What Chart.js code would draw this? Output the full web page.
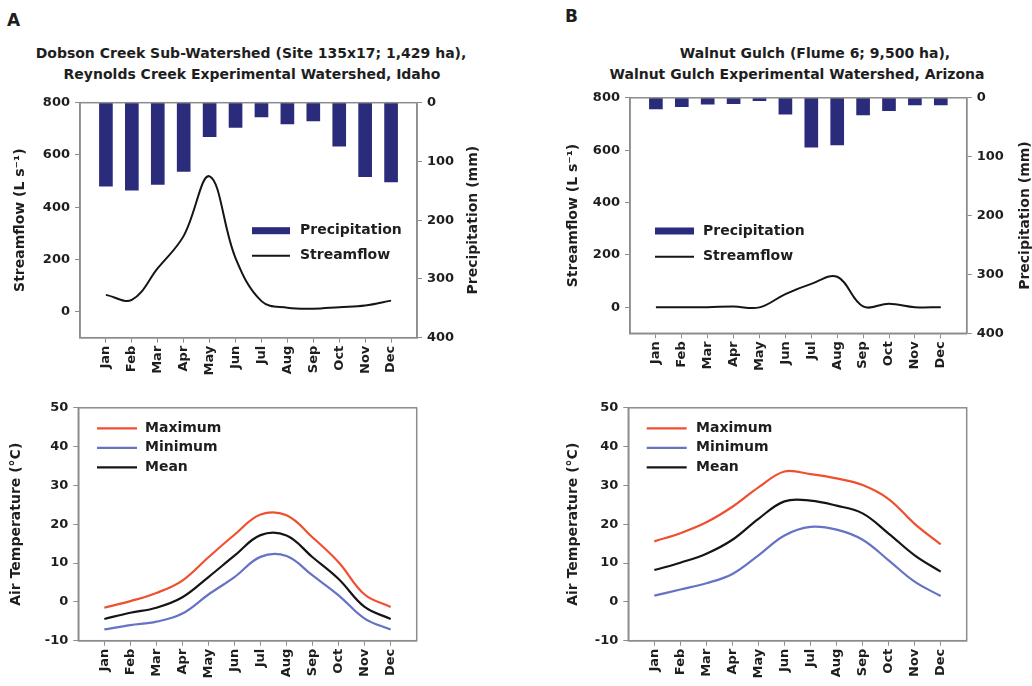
<!DOCTYPE html>
<html><head><meta charset="utf-8">
<script src="https://cdn.jsdelivr.net/npm/chart.js@4.4.1/dist/chart.umd.min.js"></script>
<style>
html,body{margin:0;padding:0;background:#fff;width:1032px;height:686px;overflow:hidden;position:relative;}
canvas{position:absolute;}
.t{position:absolute;font:bold 14px "DejaVu Sans";color:#1e1e1e;white-space:nowrap;text-align:center;width:600px;line-height:16px;}
.l{position:absolute;font:bold 17px "DejaVu Sans";color:#1e1e1e;line-height:20px;}
</style></head><body>
<div class="l" style="left:7px;top:10px">A</div>
<div class="l" style="left:565px;top:6px">B</div>
<div class="t" style="left:-49px;top:45px">Dobson Creek Sub-Watershed (Site 135x17; 1,429 ha),</div>
<div class="t" style="left:-48px;top:66px">Reynolds Creek Experimental Watershed, Idaho</div>
<div class="t" style="left:515px;top:45px">Walnut Gulch (Flume 6; 9,500 ha),</div>
<div class="t" style="left:497px;top:66px">Walnut Gulch Experimental Watershed, Arizona</div>
<canvas id="ta" width="520" height="310" style="left:0;top:85px"></canvas>
<canvas id="tb" width="512" height="310" style="left:520px;top:85px"></canvas>
<canvas id="ba" width="520" height="291" style="left:0;top:395px"></canvas>
<canvas id="bb" width="512" height="291" style="left:520px;top:395px"></canvas>
<script>
// ---- data ----
const months = ['Jan','Feb','Mar','Apr','May','Jun','Jul','Aug','Sep','Oct','Nov','Dec'];
const precipA = [142, 149, 139, 117, 58, 42, 24, 36, 31, 74, 126, 135];
const streamA = [64, 45, 166, 290, 518, 205, 40, 15, 11, 17, 23, 42];
const precipB = [19, 15, 11, 10, 5, 28, 84, 80, 29, 22, 12, 12];
const streamB = [0, 0, 0, 2, -1, 50, 89, 116, 3, 13, 0, 0];
const tmaxA = [-1.5, 0.2, 2.3, 5.5, 11.5, 17.3, 22.5, 22.3, 16.6, 10.2, 1.9, -1.3];
const tmeanA = [-4.4, -2.8, -1.5, 1.2, 6.4, 11.9, 17.2, 17.1, 11.5, 5.9, -1.3, -4.4];
const tminA = [-7.1, -6.0, -5.1, -3.0, 1.9, 6.4, 11.6, 11.8, 6.8, 1.7, -4.3, -7.1];
const tmaxB = [15.6, 17.7, 20.5, 24.5, 29.5, 33.6, 32.9, 31.8, 30.1, 26.5, 20.1, 14.8];
const tmeanB = [8.2, 10.1, 12.4, 16.0, 21.4, 25.9, 26.1, 24.8, 22.8, 17.6, 12.0, 7.8];
const tminB = [1.6, 3.2, 4.8, 7.2, 12.0, 17.1, 19.3, 18.6, 16.0, 10.7, 5.2, 1.5];
const streamTicks = [0, 200, 400, 600, 800];
const precipTicks = [0, 100, 200, 300, 400];
const tempTicks = [-10, 0, 10, 20, 30, 40, 50];

// ---- styling ----
const FAM = 'DejaVu Sans';
const TXT = '#1e1e1e';
const AX = '#8c8c8c';
const tickFont = {family: FAM, weight: 'bold', size: 13};
const titleFont = {family: FAM, weight: 'bold', size: 14};
const cats = ['', ...months, ''];
const pad = a => [null, ...a, null];

const framePlugin = {
  id: 'frame',
  afterDatasetsDraw(chart) {
    const a = chart.chartArea, ctx = chart.ctx;
    ctx.save(); ctx.strokeStyle = AX; ctx.lineWidth = 1.5;
    ctx.strokeRect(a.left, a.top, a.right - a.left, a.bottom - a.top);
    ctx.restore();
  }
};
const legendPlugin = {
  id: 'boxLegend',
  afterDraw(chart, args, o) {
    const ctx = chart.ctx;
    ctx.save();
    ctx.font = 'bold 14px "' + FAM + '"';
    ctx.textBaseline = 'middle';
    chart.data.datasets.forEach((ds, i) => {
      const y = o.y + i * o.gap;
      if (ds.type === 'bar') {
        ctx.fillStyle = ds.backgroundColor;
        ctx.fillRect(o.x, y - 3.5, o.w, 7);
      } else {
        ctx.strokeStyle = ds.borderColor; ctx.lineWidth = ds.borderWidth;
        ctx.beginPath(); ctx.moveTo(o.x, y); ctx.lineTo(o.x + o.w, y); ctx.stroke();
      }
      ctx.fillStyle = TXT;
      ctx.fillText(ds.label, o.tx, y);
    });
    ctx.restore();
  }
};
const sideTitlePlugin = {
  id: 'sideTitle',
  afterDraw(chart, args, o) {
    if (!o.text) return;
    const a = chart.chartArea, ctx = chart.ctx;
    ctx.save();
    ctx.translate(o.x, (a.top + a.bottom) / 2);
    ctx.rotate(-Math.PI / 2);
    ctx.font = 'bold 14px "' + FAM + '"';
    ctx.fillStyle = TXT; ctx.textAlign = 'center'; ctx.textBaseline = 'middle';
    ctx.fillText(o.text, 0, 0);
    ctx.restore();
  }
};

function xScale(h) {
  return {
    type: 'category', labels: cats, offset: false,
    grid: {offset: false, drawOnChartArea: false, tickLength: 5,
      color: c => (c.index === 0 || c.index === cats.length - 1) ? 'rgba(0,0,0,0)' : AX,
      tickColor: c => (c.index === 0 || c.index === cats.length - 1) ? 'rgba(0,0,0,0)' : AX},
    border: {color: AX, width: 1.5},
    ticks: {autoSkip: false, maxRotation: 90, minRotation: 90, font: tickFont, color: TXT, padding: 3},
    afterFit: s => { s.height = h; }
  };
}
function yScale(pos, min, max, ticks, w, reverse, title, tpad) {
  const sc = {
    position: pos, min: min, max: max, reverse: !!reverse,
    afterBuildTicks: s => { s.ticks = ticks.map(v => ({value: v})); },
    grid: {drawOnChartArea: false, tickLength: 5, color: AX},
    border: {color: AX, width: 1.5},
    ticks: {font: tickFont, color: TXT, padding: 5},
    afterFit: s => { s.width = w; }
  };
  if (title) sc.title = {display: true, text: title, font: titleFont, color: TXT, padding: {top: tpad, bottom: 0}};
  return sc;
}

function topChart(id, precip, stream, p) {
  return new Chart(document.getElementById(id), {
    type: 'bar',
    data: {
      labels: cats,
      datasets: [
        {type: 'bar', label: 'Precipitation', data: pad(precip), yAxisID: 'y2', xAxisID: 'x',
         backgroundColor: '#2b2b7b', barThickness: 13, order: 2},
        {type: 'line', label: 'Streamflow', data: pad(stream), yAxisID: 'y', xAxisID: 'x',
         borderColor: '#151515', borderWidth: 2, pointRadius: 0, tension: 0.38, fill: false, order: 1}
      ]
    },
    options: {
      responsive: false, animation: false, events: [],
      layout: {padding: p.padding},
      plugins: {legend: {display: false}, tooltip: {enabled: false},
        boxLegend: p.legend, sideTitle: {text: 'Precipitation (mm)', x: p.rtx}},
      scales: {
        x: xScale(p.xh),
        y: yScale('left', -100, 800, streamTicks, p.lw, false, 'Streamflow (L s\u207B\u00B9)', p.tpad),
        y2: yScale('right', 0, 400, precipTicks, p.rw, true, null, 0)
      }
    },
    plugins: [framePlugin, legendPlugin, sideTitlePlugin]
  });
}
function tempChart(id, tmax, tmin, tmean, p) {
  return new Chart(document.getElementById(id), {
    type: 'line',
    data: {
      labels: cats,
      datasets: [
        {label: 'Maximum', data: pad(tmax), borderColor: '#f04f2f', borderWidth: 2.2, pointRadius: 0, tension: 0.38},
        {label: 'Minimum', data: pad(tmin), borderColor: '#6672c4', borderWidth: 2.2, pointRadius: 0, tension: 0.38},
        {label: 'Mean', data: pad(tmean), borderColor: '#151515', borderWidth: 2.2, pointRadius: 0, tension: 0.38}
      ]
    },
    options: {
      responsive: false, animation: false, events: [],
      layout: {padding: p.padding},
      plugins: {legend: {display: false}, tooltip: {enabled: false}, boxLegend: p.legend},
      scales: {
        x: xScale(p.xh),
        y: yScale('left', -10, 50, tempTicks, p.lw, false, 'Air Temperature (\u00B0C)', p.tpad)
      }
    },
    plugins: [framePlugin, legendPlugin]
  });
}

topChart('ta', precipA, streamA, {
  padding: {left: 0, top: 17.7, right: 43, bottom: 0}, xh: 57.3, lw: 80, rw: 60, tpad: 11.6, rtx: 473,
  legend: {x: 252, w: 38, tx: 300, y: 145.7, gap: 25}
});
topChart('tb', precipB, streamB, {
  padding: {left: 0, top: 12.7, right: 0, bottom: 0}, xh: 61.7, lw: 110, rw: 65.3, tpad: 44.6, rtx: 505,
  legend: {x: 135, w: 39, tx: 183, y: 146, gap: 25.7}
});
tempChart('ba', tmaxA, tminA, tmeanA, {
  padding: {left: 0, top: 11, right: 103.3, bottom: 0}, xh: 45.3, lw: 78.3, tpad: 8.3,
  legend: {x: 97, w: 40, tx: 145, y: 33.3, gap: 19.5}
});
tempChart('bb', tmaxB, tminB, tmeanB, {
  padding: {left: 0, top: 11, right: 65.3, bottom: 0}, xh: 45.3, lw: 108.3, tpad: 44.6,
  legend: {x: 126.7, w: 40, tx: 176, y: 33.3, gap: 19.5}
});
</script>
</body></html>
